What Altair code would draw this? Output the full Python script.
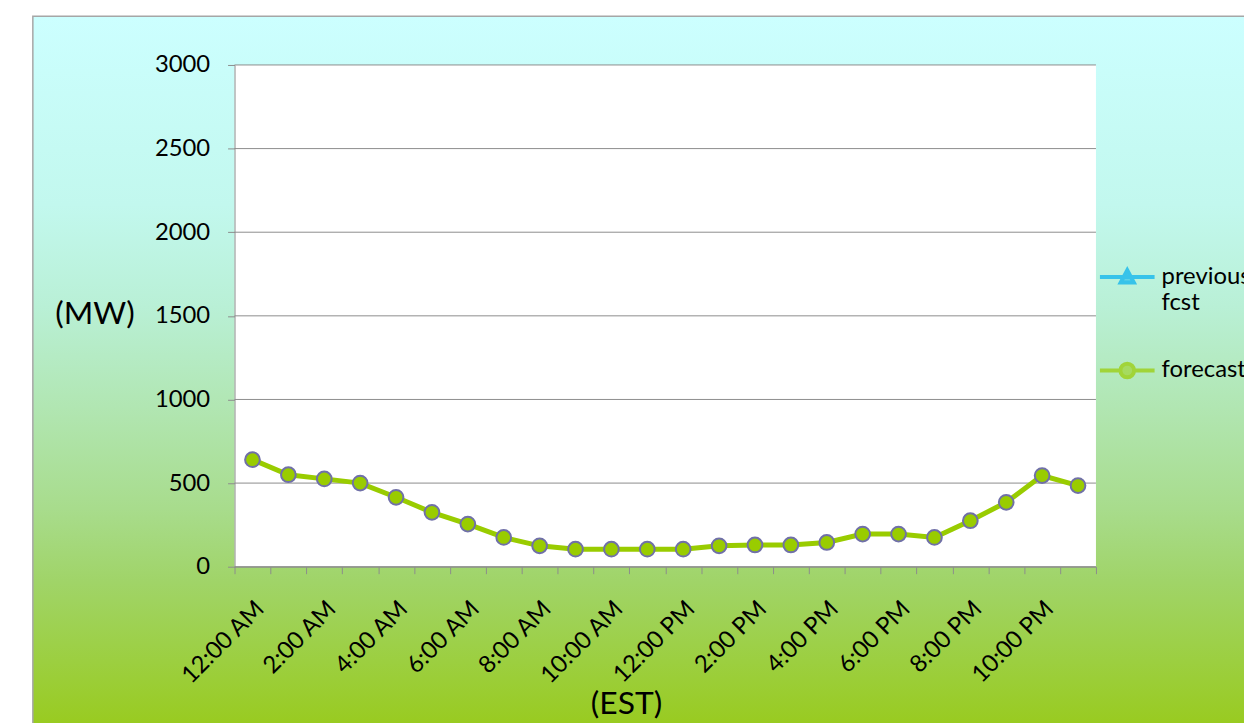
import altair as alt
import pandas as pd

# ---------------- data ----------------
hours = ["12:00 AM", "1:00 AM", "2:00 AM", "3:00 AM", "4:00 AM", "5:00 AM",
         "6:00 AM", "7:00 AM", "8:00 AM", "9:00 AM", "10:00 AM", "11:00 AM",
         "12:00 PM", "1:00 PM", "2:00 PM", "3:00 PM", "4:00 PM", "5:00 PM",
         "6:00 PM", "7:00 PM", "8:00 PM", "9:00 PM", "10:00 PM", "11:00 PM"]
forecast = [640, 550, 525, 500, 415, 325, 255, 175, 125, 105, 105, 105,
            105, 125, 130, 130, 145, 195, 195, 175, 275, 385, 545, 485]
tick_labels = ["12:00 AM", "2:00 AM", "4:00 AM", "6:00 AM", "8:00 AM", "10:00 AM",
               "12:00 PM", "2:00 PM", "4:00 PM", "6:00 PM", "8:00 PM", "10:00 PM"]
y_ticks = [0, 500, 1000, 1500, 2000, 2500, 3000]
series = ["previous fcst", "forecast"]
series_colors = ["#00b0f0", "#99cc00"]

df = pd.DataFrame({"hour": hours, "MW": forecast})
df_grid = pd.DataFrame({"v": y_ticks})
df_series = pd.DataFrame({"series": series})

# ---------------- layout constants ----------------
W, H = 867, 505
FONT = "Lato"
GRID = "#8c8c8c"

# legend symbols (line + marker) as custom paths in unit coordinates
legend_paths = [
    "M-1,0L1,0M0,-0.25L0.24,0.2L-0.24,0.2Z",
    "M-1,0L-0.25,0M0.25,0L1,0M-0.25,0A0.25,0.25,0,1,1,0.25,0A0.25,0.25,0,1,1,-0.25,0Z",
]

label_js = "[" + ",".join("'" + t + "'" for t in tick_labels) + "]"

x_scale = alt.Scale(type="band", domain=hours, paddingInner=0, paddingOuter=0)
y_scale = alt.Scale(domain=[0, 3000], nice=False, zero=True)

x_axis = alt.Axis(
    title="(EST)", titleFont=FONT, titleFontSize=32, titleFontWeight="normal",
    titleColor="black", titleX=394, titleY=138, titleBaseline="middle",
    titleAlign="center",
    tickBand="extent", tickSize=7, tickColor=GRID, domainColor=GRID,
    labelExpr="indexof(" + label_js + ", datum.label) >= 0 ? datum.label : ''",
    labelAngle=-45, labelAlign="right", labelBaseline="top",
    labelPadding=23, labelOffset=-1, labelFont=FONT, labelFontSize=24,
    labelColor="black", labelOverlap=False, grid=False, zindex=1,
)
y_axis = alt.Axis(
    title="(MW)", titleFont=FONT, titleFontSize=32, titleFontWeight="normal",
    titleColor="black", titleAngle=0, titleX=-141, titleY=250,
    titleAlign="center", titleBaseline="middle",
    values=y_ticks, format="d", tickSize=7, tickColor=GRID, domainColor=GRID,
    labelPadding=18, labelFont=FONT, labelFontSize=24, labelColor="black",
    grid=False, zindex=1,
)

X = alt.X("hour:N", scale=x_scale, axis=x_axis, sort=hours, bandPosition=0.5)
Y = alt.Y("MW:Q", scale=y_scale, axis=y_axis)

gradient = alt.Gradient(
    gradient="linear", x1=0, y1=0, x2=0, y2=1,
    stops=[
        alt.GradientStop(offset=0.0, color="#ccffff"),
        alt.GradientStop(offset=0.26, color="#c2f8ee"),
        alt.GradientStop(offset=0.40, color="#b9f0d6"),
        alt.GradientStop(offset=0.54, color="#b1e6b2"),
        alt.GradientStop(offset=0.68, color="#a8dc8c"),
        alt.GradientStop(offset=0.78, color="#a0d468"),
        alt.GradientStop(offset=1.0, color="#98ca18"),
    ],
)

one = pd.DataFrame({"d": [0]})

bg = alt.Chart(one).mark_rect(fill=gradient, stroke="#a6a6a6", strokeWidth=1.5).encode(
    x=alt.value(-203), x2=alt.value(1030), y=alt.value(-49), y2=alt.value(680)
)
plot_bg = alt.Chart(one).mark_rect(fill="white").encode(
    x=alt.value(0), x2=alt.value(W), y=alt.value(0), y2=alt.value(H)
)
grid = alt.Chart(df_grid).mark_rule(color=GRID, strokeWidth=1).encode(
    y=alt.Y("v:Q", scale=y_scale, axis=y_axis)
)
line = alt.Chart(df).mark_line(color="#99cc00", strokeWidth=5).encode(x=X, y=Y)
points = alt.Chart(df).mark_point(
    filled=True, size=220, fill="#99cc00", stroke="#7070a8", strokeWidth=2, opacity=1
).encode(x=X, y=Y)

legend = alt.Legend(
    title=None, orient="none", legendX=869, legendY=184,
    symbolSize=3025, symbolStrokeWidth=4, symbolOpacity=1,
    labelFont=FONT, labelFontSize=24, labelColor="black",
    labelExpr="split(datum.label, ' ')", labelOffset=5, rowPadding=26,
    padding=0, labelLimit=300,
)
legend_layer = alt.Chart(df_series).transform_filter("false").mark_point(filled=True).encode(
    fill=alt.Fill("series:N", scale=alt.Scale(domain=series, range=series_colors), legend=legend),
    stroke=alt.Stroke("series:N", scale=alt.Scale(domain=series, range=series_colors)),
    shape=alt.Shape("series:N", scale=alt.Scale(domain=series, range=legend_paths)),
)

chart = alt.layer(bg, plot_bg, grid, line, points, legend_layer).properties(
    width=W, height=H,
    autosize=alt.AutoSizeParams(type="none"),
    padding={"left": 228, "top": 55, "right": 149, "bottom": 160},
).configure_view(stroke=None).configure(font=FONT)

chart.save("out.html", embed_options={"renderer": "svg", "actions": False})
